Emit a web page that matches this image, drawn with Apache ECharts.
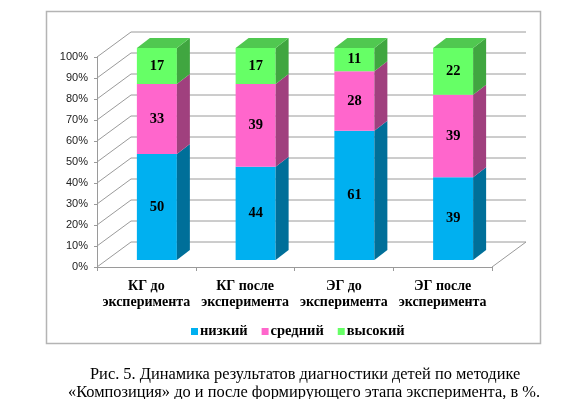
<!DOCTYPE html>
<html>
<head>
<meta charset="utf-8">
<script src="https://cdn.jsdelivr.net/npm/echarts@6/dist/echarts.min.js"></script>
<style>
  html, body { margin: 0; padding: 0; background: #fff; }
  #chart { width: 561px; height: 399px; }
</style>
</head>
<body>
<div id="chart"></div>
<script>
// data
const categories = ['КГ до\nэксперимента', 'КГ после\nэксперимента', 'ЭГ до\nэксперимента', 'ЭГ после\nэксперимента']
const levelNames = ['низкий', 'средний', 'высокий']
const low = [50, 44, 61, 39]
const mid = [33, 39, 28, 39]
const high = [17, 17, 11, 22]
const wallTicks = [0, 10, 20, 30, 40, 50, 60, 70, 80, 90, 100]

const frontColors = ['#00b0f0', '#ff66cc', '#66ff66']
const sideColors = ['#006f99', '#a0407e', '#40a640']
const topColors = ['#0090c8', '#d050a8', '#50c850']

const WALL_DX = 34, WALL_DY = -25   // depth of the 3d box
const BAR_DX = 13, BAR_DY = -10     // depth of one bar

// stacked segments [cat, start, end, value]
const levels = [low, mid, high]
const stackStart = categories.map(() => 0)
const segments = levels.map((vals) => vals.map((v, i) => {
    const s = stackStart[i]
    stackStart[i] += v
    return [i, s, s + v, v]
}))

function renderWalls(params, api) {
    const v = api.value(0)
    const half = api.size([1, 0])[0] / 2
    const p = api.coord([0, v])
    const q = api.coord([categories.length - 1, v])
    const left = p[0] - half, right = q[0] + half
    const ls = {stroke: '#9a9a9a', lineWidth: 1}
    const children = [
        {type: 'line', shape: {x1: left, y1: p[1], x2: left + WALL_DX, y2: p[1] + WALL_DY}, style: ls},
        {type: 'line', shape: {x1: left + WALL_DX, y1: p[1] + WALL_DY, x2: right + WALL_DX, y2: p[1] + WALL_DY}, style: ls},
    ]
    if (v === 0) {
        children.push({type: 'line', shape: {x1: right, y1: p[1], x2: right + WALL_DX, y2: p[1] + WALL_DY}, style: ls})
    }
    return {type: 'group', children: children}
}

function makeBarRenderer(level) {
    return function (params, api) {
        const cat = api.value(0)
        const b = api.coord([cat, api.value(1)])
        const t = api.coord([cat, api.value(2)])
        const bw = api.size([1, 0])[0] * 0.405
        const x0 = b[0] - bw / 2, x1 = b[0] + bw / 2
        const children = [
            {type: 'rect', shape: {x: x0, y: t[1], width: bw, height: b[1] - t[1]}, style: {fill: frontColors[level]}},
            {type: 'polygon', shape: {points: [[x1, b[1]], [x1 + BAR_DX, b[1] + BAR_DY], [x1 + BAR_DX, t[1] + BAR_DY], [x1, t[1]]]}, style: {fill: sideColors[level]}},
        ]
        if (level === levels.length - 1) {
            children.push({type: 'polygon', shape: {points: [[x0, t[1]], [x0 + BAR_DX, t[1] + BAR_DY], [x1 + BAR_DX, t[1] + BAR_DY], [x1, t[1]]]}, style: {fill: topColors[level]}})
        }
        children.push({
            type: 'text',
            style: {
                text: String(api.value(3)), x: b[0], y: (b[1] + t[1]) / 2,
                align: 'center', verticalAlign: 'middle',
                font: 'bold 14.5px "Liberation Serif", serif', fill: '#000'
            }
        })
        return {type: 'group', children: children}
    }
}

const chart = echarts.init(document.getElementById('chart'), null, {renderer: 'canvas'})

const barSeries = levels.map((vals, k) => ({
    name: levelNames[k],
    type: 'custom',
    xAxisIndex: 1,
    yAxisIndex: 1,
    itemStyle: {color: frontColors[k]},
    renderItem: makeBarRenderer(k),
    encode: {x: 0, y: [1, 2]},
    data: segments[k],
    z: 5,
}))

chart.setOption({
    animation: false,
    graphic: [
        {type: 'rect', shape: {x: 46.5, y: 11.5, width: 494, height: 332}, style: {fill: 'none', stroke: '#b4b4b4', lineWidth: 1.5}, z: 0},
        {type: 'text', left: 90, top: 367, style: {text: 'Рис. 5. Динамика результатов диагностики детей по методике', font: '16.4px "Liberation Serif", serif', fill: '#000'}},
        {type: 'text', left: 68, top: 385, style: {text: '«Композиция» до и после формирующего этапа эксперимента, в %.', font: '16.4px "Liberation Serif", serif', fill: '#000'}},
    ],
    legend: {
        data: levelNames,
        left: 186,
        top: 319,
        icon: 'rect',
        itemWidth: 7,
        itemHeight: 7,
        itemGap: 14,
        textStyle: {fontFamily: '"Liberation Serif", serif', fontWeight: 'bold', fontSize: 14.5, color: '#000', padding: [0, 0, 0, -3]},
    },
    grid: [
        {left: 97, right: 69, top: 57, bottom: 132},
        {left: 107.5, right: 58.5, top: 48, bottom: 139},
    ],
    xAxis: [
        {
            type: 'category', gridIndex: 0, data: categories,
            axisLine: {lineStyle: {color: '#9a9a9a'}},
            axisTick: {show: true, length: 4, lineStyle: {color: '#9a9a9a'}},
            axisLabel: {
                margin: 11, lineHeight: 16, interval: 0,
                fontFamily: '"Liberation Serif", serif', fontWeight: 'bold', fontSize: 14, color: '#000'
            },
        },
        {type: 'category', gridIndex: 1, data: categories, show: false},
    ],
    yAxis: [
        {
            type: 'value', gridIndex: 0, min: 0, max: 100, interval: 10,
            axisLine: {show: true, lineStyle: {color: '#9a9a9a'}},
            axisTick: {show: true, length: 3, lineStyle: {color: '#9a9a9a'}},
            splitLine: {show: false},
            axisLabel: {margin: 9, formatter: '{value}%', fontFamily: '"Liberation Sans", sans-serif', fontSize: 11, color: '#222'},
        },
        {type: 'value', gridIndex: 1, min: 0, max: 100, show: false},
    ],
    series: [
        {
            type: 'custom',
            xAxisIndex: 0,
            yAxisIndex: 0,
            renderItem: renderWalls,
            encode: {y: 0},
            data: wallTicks.map((v) => [v]),
            silent: true,
            z: 1,
        },
    ].concat(barSeries),
})
</script>
</body>
</html>
